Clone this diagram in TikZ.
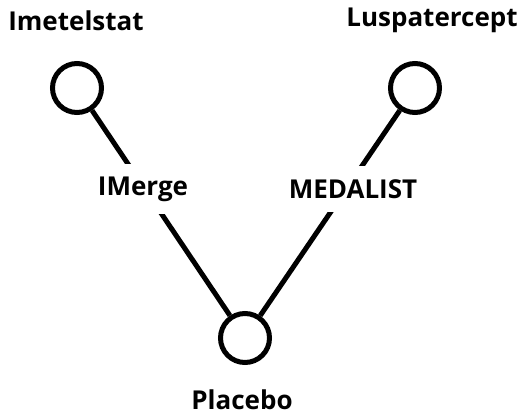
\documentclass[tikz,border=0pt]{standalone}
\usepackage{fontspec}
\setmainfont{Open Sans}
\usetikzlibrary{positioning}

\begin{document}
\begin{tikzpicture}[
  x=1pt, y=-1pt,
  armcircle/.style={circle, draw=black, line width=5pt, minimum size=49pt, inner sep=0pt},
  armlabel/.style={font=\fontsize{26}{30}\selectfont\bfseries, inner sep=0pt},
  triallabel/.style={font=\fontsize{26}{30}\selectfont\bfseries, fill=white, inner xsep=4pt, inner ysep=13pt},
  trialline/.style={line width=5pt}
]
  \useasboundingbox (0,0) rectangle (521,417);
  % arms
  \node[armcircle] (imetelstat) at (77,88) {};
  \node[armcircle] (luspatercept) at (415,88) {};
  \node[armcircle] (placebo) at (245,338) {};
  % trials
  \draw[trialline] (imetelstat) -- (placebo);
  \draw[trialline] (luspatercept) -- (placebo);
  \node[triallabel] (imerge) at (143,189) {IMerge};
  \node[triallabel] (medalist) at (353,189) {MEDALIST};
  % names
  \node[armlabel] (imetelstatname) at (76,21) {Imetelstat};
  \node[armlabel] (luspaterceptname) at (432,20) {Luspatercept};
  \node[armlabel] (placeboname) at (242,400) {Placebo};
\end{tikzpicture}
\end{document}
